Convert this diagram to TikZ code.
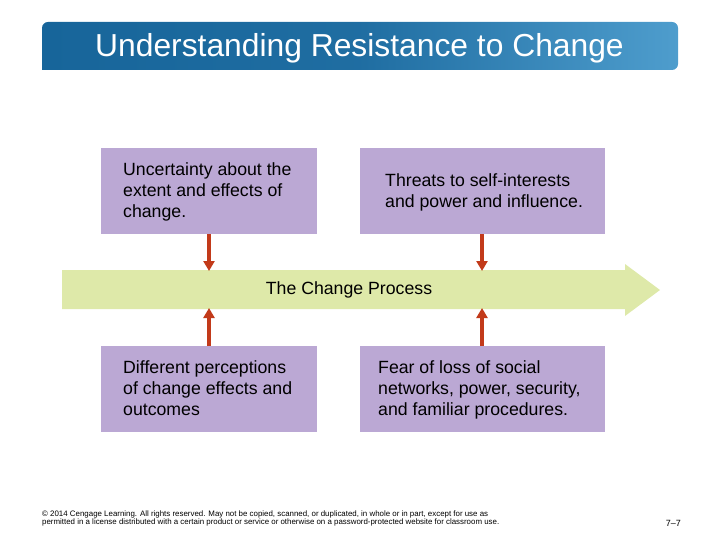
\documentclass[tikz,border=0pt]{standalone}
\usepackage{fontspec}
\setmainfont{Liberation Sans}
\usetikzlibrary{arrows.meta}
\definecolor{lav}{HTML}{BBA8D4}
\definecolor{band}{HTML}{DEE9A9}
\definecolor{redarr}{HTML}{C23A1A}
\definecolor{tblueL}{HTML}{17659A}
\definecolor{tblueR}{HTML}{4E9DCD}
\tikzset{
  box/.style={fill=lav, draw=none, minimum width=216pt, minimum height=86pt, anchor=north west},
  widebox/.style={box, minimum width=245pt},
  boxtext/.style={anchor=north west, align=left, font=\fontsize{17.7}{21.3}\selectfont, inner sep=0pt},
  rarrow/.style={draw=redarr, line width=3.2pt, -{Triangle[width=11pt,length=10pt]}}
}
\begin{document}
\begin{tikzpicture}[x=1pt,y=-1pt]
\useasboundingbox (0,0) rectangle (720,540);
% title bar
\shade[left color=tblueL, right color=tblueR, middle color=tblueL!85!tblueR, rounded corners=6pt]
  (42,70) -- (42,22) -- (678,22) -- (678,70) [sharp corners] -- cycle;
\fill[tblueL] (42,60) rectangle (60,70);
\node[text=white, font=\fontsize{31.8}{34}\selectfont, anchor=west, inner sep=0pt] (title) at (95,48) {Understanding Resistance to Change};
% band arrow
\fill[band] (62,270) -- (625,270) -- (625,264) -- (660,290) -- (625,316) -- (625,309) -- (62,309) -- cycle;
\node[font=\fontsize{17.7}{20}\selectfont] (proc) at (349,290) {The Change Process};
\coordinate (b1) at (209,271);
\coordinate (b2) at (482,271);
\coordinate (b3) at (209,308);
\coordinate (b4) at (482,308);
% boxes
\node[box] (box1) at (101,148) {};
\node[widebox] (box2) at (360,148) {};
\node[box] (box3) at (101,346) {};
\node[widebox] (box4) at (360,346) {};
\node[boxtext] (t1) at (123,162) {Uncertainty about the\\extent and effects of\\change.};
\node[boxtext] (t2) at (385,173) {Threats to self-interests\\and power and influence.};
\node[boxtext] (t3) at (123,360) {Different perceptions\\of change effects and\\outcomes};
\node[boxtext] (t4) at (378,360) {Fear of loss of social\\networks, power, security,\\and familiar procedures.};
% red arrows
\draw[rarrow] (box1.south -| b1) -- (b1);
\draw[rarrow] (box2.south -| b2) -- (b2);
\draw[rarrow] (box3.north -| b3) -- (b3);
\draw[rarrow] (box4.north -| b4) -- (b4);
% footer
\node[anchor=north west, align=left, inner sep=0pt, font=\fontsize{7.9}{8}\selectfont] (foot) at (42,511)
 {© 2014 Cengage Learning. All rights reserved. May not be copied, scanned, or duplicated, in whole or in part, except for use as\\permitted in a license distributed with a certain product or service or otherwise on a password-protected website for classroom use.};
\node[anchor=east, inner sep=0pt, font=\fontsize{9}{10}\selectfont] (pg) at (681,523) {7–7};
\end{tikzpicture}
\end{document}
